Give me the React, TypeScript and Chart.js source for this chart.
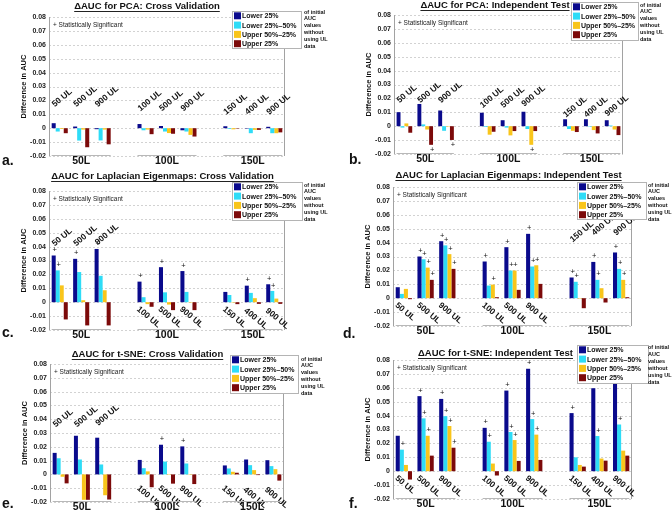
import React, { useEffect, useRef } from 'react';
import { Chart, registerables } from 'chart.js';
Chart.register(...registerables);

const FONT = '"Liberation Sans", Arial, Helvetica, sans-serif';

// ---------- shared data ----------
const categories = ['50 UL', '500 UL', '900 UL', '100 UL', '500 UL', '900 UL', '150 UL', '400 UL', '900 UL'];
const groupLabels = ['50L', '100L', '150L'];
const seriesNames = ['Lower 25%', 'Lower 25%\u201350%', 'Upper 50%\u201325%', 'Upper 25%'];
const seriesColors = ['#0A0A8C', '#2EDCF7', '#F9C51B', '#7C0A0A'];
const legendNote = ['of initial', 'AUC', 'values', 'without', 'using UL', 'data'];
const yTickValues = [-0.02, -0.01, 0, 0.01, 0.02, 0.03, 0.04, 0.05, 0.06, 0.07, 0.08];
const yAxisTitle = 'Difference in AUC';
const sigNote = '+ Statistically Significant';

// ---------- a. PCA: Cross Validation ----------
const pcaCvLower25 = [0.0036, 0.0012, -0.0007, 0.003, 0.0016, -0.0015, 0.0014, -0.0003, 0.001];
const pcaCvLower2550 = [-0.0024, -0.0089, -0.0088, -0.0015, -0.0024, -0.0024, -0.0005, -0.0036, -0.0036];
const pcaCvUpper5025 = [-0.0005, -0.001, -0.001, -0.001, -0.0035, -0.0048, -0.0008, -0.0012, -0.0036];
const pcaCvUpper25 = [-0.0036, -0.0137, -0.0116, -0.0043, -0.004, -0.006, -0.0003, -0.0012, -0.003];
const pcaCvSig = [
  [0, 0, 0, 0, 0, 0, 0, 0, 0],
  [0, 0, 0, 0, 0, 0, 0, 0, 0],
  [0, 0, 0, 0, 0, 0, 0, 0, 0],
  [0, 0, 0, 0, 0, 0, 0, 0, 0],
];

// ---------- b. PCA: Independent Test ----------
const pcaItLower25 = [0.0101, 0.016, 0.0113, 0.0097, 0.0043, 0.0104, 0.005, 0.005, 0.0043];
const pcaItLower2550 = [-0.001, 0.0013, -0.0033, -0.0005, -0.001, -0.002, -0.002, -0.0003, 0.0005];
const pcaItUpper5025 = [0.002, -0.0024, -0.0003, -0.0061, -0.0066, -0.0134, -0.0033, -0.0028, -0.0024];
const pcaItUpper25 = [-0.0047, -0.0134, -0.0099, -0.004, -0.0035, -0.0035, -0.0042, -0.0052, -0.0064];
const pcaItSig = [
  [0, 0, 0, 0, 0, 0, 0, 0, 0],
  [0, 0, 0, 0, 0, 0, 0, 0, 0],
  [0, 0, 0, 0, 0, 1, 0, 0, 0],
  [0, 1, 1, 0, 0, 0, 0, 0, 0],
];

// ---------- c. Laplacian Eigenmaps: Cross Validation ----------
const leCvLower25 = [0.0336, 0.0312, 0.0383, 0.0148, 0.0252, 0.0224, 0.0074, 0.0119, 0.0129];
const leCvLower2550 = [0.0229, 0.0217, 0.019, 0.0036, 0.0071, 0.0074, 0.0052, 0.0067, 0.0081];
const leCvUpper5025 = [0.0121, 0.0014, 0.0086, -0.0014, -0.0017, -0.0003, -0.0003, 0.0029, 0.0026];
const leCvUpper25 = [-0.0124, -0.0167, -0.0167, -0.0033, -0.0057, -0.0057, -0.0014, -0.0012, -0.0012];
const leCvSig = [
  [1, 1, 1, 1, 1, 1, 0, 1, 1],
  [1, 0, 0, 0, 0, 0, 0, 0, 1],
  [0, 0, 0, 0, 0, 0, 0, 0, 0],
  [0, 0, 0, 0, 0, 0, 0, 0, 0],
];

// ---------- d. Laplacian Eigenmaps: Independent Test ----------
const leItLower25 = [0.0079, 0.030, 0.041, 0.0264, 0.0367, 0.0463, 0.0149, 0.0261, 0.0329];
const leItLower2550 = [0.0031, 0.028, 0.038, 0.0091, 0.0199, 0.0228, 0.0118, 0.0132, 0.0211];
const leItUpper5025 = [0.0067, 0.022, 0.0317, 0.0098, 0.0199, 0.0237, -0.0003, 0.0072, 0.0132];
const leItUpper25 = [-0.0007, 0.0132, 0.0211, 0.0007, 0.006, 0.0103, -0.0072, -0.0031, 0.0007];
const leItSig = [
  [0, 1, 1, 1, 1, 1, 1, 1, 1],
  [0, 1, 1, 0, 1, 1, 1, 1, 1],
  [0, 1, 1, 1, 1, 1, 0, 0, 1],
  [0, 1, 1, 0, 0, 0, 0, 0, 0],
];

// ---------- e. t-SNE: Cross Validation ----------
const tsCvLower25 = [0.0156, 0.028, 0.0266, 0.0105, 0.0215, 0.0203, 0.0065, 0.0108, 0.0103];
const tsCvLower2550 = [0.0117, 0.0108, 0.0072, 0.0045, 0.0093, 0.0079, 0.0043, 0.0067, 0.006];
const tsCvUpper5025 = [-0.0017, -0.0184, -0.0151, 0.0022, 0.0003, 0.0003, 0.0019, 0.0031, 0.0038];
const tsCvUpper25 = [-0.0065, -0.0184, -0.0182, -0.0093, -0.0067, -0.007, 0.0012, -0.0005, -0.0045];
const tsCvSig = [
  [0, 0, 0, 0, 1, 1, 0, 0, 0],
  [0, 0, 0, 0, 0, 0, 0, 0, 0],
  [0, 0, 0, 0, 0, 0, 0, 0, 0],
  [0, 0, 0, 0, 0, 0, 0, 0, 0],
];

// ---------- f. t-SNE: Independent Test ----------
const tsItLower25 = [0.0255, 0.054, 0.052, 0.0312, 0.058, 0.0737, 0.0418, 0.0597, 0.0637];
const tsItLower2550 = [0.0155, 0.038, 0.0396, 0.0212, 0.0282, 0.0375, 0.01, 0.0253, 0.0336];
const tsItUpper5025 = [0.0045, 0.0255, 0.0325, 0.0055, 0.0224, 0.0263, 0.0045, 0.0091, 0.0148];
const tsItUpper25 = [-0.006, 0.0112, 0.0169, -0.0031, 0.0074, 0.0081, 0.0033, 0.0076, 0.0112];
const tsItSig = [
  [0, 1, 1, 1, 1, 1, 1, 1, 1],
  [1, 1, 1, 1, 1, 1, 0, 1, 1],
  [0, 1, 1, 0, 1, 1, 0, 0, 0],
  [0, 0, 1, 0, 0, 0, 0, 0, 0],
];

type PanelCfg = {
  key: string;
  x0: number; y0: number; w: number; h: number;
  area: [number, number, number, number];
  title: string; titleX: number; titleY: number;
  letter: string; letterX: number; letterY: number;
  legend: [number, number, number, number];
  noteX: number; noteY: number; noteStep: number;
  series: number[][];
  sig: number[][];
  labelSides: string[];
  labelY: number[];
};

const panels: PanelCfg[] = [
  {
    key: 'a', x0: 0, y0: 0, w: 336, h: 170, area: [49, 17, 285, 156],
    title: '\u0394AUC for PCA: Cross Validation', titleX: 147, titleY: 6,
    letter: 'a.', letterX: 2, letterY: 165,
    legend: [232, 11, 69, 37], noteX: 304, noteY: 12, noteStep: 6.8,
    series: [pcaCvLower25, pcaCvLower2550, pcaCvUpper5025, pcaCvUpper25], sig: pcaCvSig,
    labelSides: ['above', 'above', 'above'],
    labelY: [0.015, 0.015, 0.015, 0.012, 0.012, 0.012, 0.0095, 0.0095, 0.0095],
  },
  {
    key: 'b', x0: 336, y0: 0, w: 336, h: 170, area: [58, 15, 287, 154],
    title: '\u0394AUC for PCA: Independent Test', titleX: 159, titleY: 5,
    letter: 'b.', letterX: 13, letterY: 164,
    legend: [235, 2, 67, 38], noteX: 304, noteY: 5, noteStep: 6.8,
    series: [pcaItLower25, pcaItLower2550, pcaItUpper5025, pcaItUpper25], sig: pcaItSig,
    labelSides: ['above', 'above', 'above'],
    labelY: [0.0165, 0.0165, 0.0165, 0.013, 0.013, 0.014, 0.006, 0.006, 0.007],
  },
  {
    key: 'c', x0: 0, y0: 170, w: 336, h: 170, area: [49, 21, 285, 160],
    title: '\u0394AUC for Laplacian Eigenmaps: Cross Validation', titleX: 162.5, titleY: 6,
    letter: 'c.', letterX: 2, letterY: 167,
    legend: [232, 12, 70, 38], noteX: 304, noteY: 15, noteStep: 6.8,
    series: [leCvLower25, leCvLower2550, leCvUpper5025, leCvUpper25], sig: leCvSig,
    labelSides: ['above', 'below', 'below'],
    labelY: [0.040, 0.040, 0.041, -0.002, -0.002, -0.002, -0.002, -0.003, -0.003],
  },
  {
    key: 'd', x0: 336, y0: 170, w: 336, h: 170, area: [57, 17, 296, 156],
    title: '\u0394AUC for Laplacian Eigenmaps: Independent Test', titleX: 172.5, titleY: 5,
    letter: 'd.', letterX: 7, letterY: 168,
    legend: [241, 12, 69, 37], noteX: 312, noteY: 15, noteStep: 6.8,
    series: [leItLower25, leItLower2550, leItUpper5025, leItUpper25], sig: leItSig,
    labelSides: ['below', 'below', 'above'],
    labelY: [-0.002, -0.002, -0.002, -0.002, -0.002, -0.002, 0.040, 0.045, 0.045],
  },
  {
    key: 'e', x0: 0, y0: 340, w: 336, h: 178, area: [50, 24, 284, 162],
    title: '\u0394AUC for t-SNE: Cross Validation', titleX: 147.5, titleY: 14,
    letter: 'e.', letterX: 2, letterY: 168,
    legend: [230, 15, 68, 38], noteX: 301, noteY: 19, noteStep: 6.8,
    series: [tsCvLower25, tsCvLower2550, tsCvUpper5025, tsCvUpper25], sig: tsCvSig,
    labelSides: ['above', 'below', 'below'],
    labelY: [0.034, 0.034, 0.035, -0.007, -0.007, -0.007, -0.007, -0.008, -0.008],
  },
  {
    key: 'f', x0: 336, y0: 340, w: 336, h: 178, area: [57, 20, 296, 159],
    title: '\u0394AUC for t-SNE: Independent Test', titleX: 159.5, titleY: 13,
    letter: 'f.', letterX: 13, letterY: 168,
    legend: [241, 5, 71, 38], noteX: 312, noteY: 7.5, noteStep: 7,
    series: [tsItLower25, tsItLower2550, tsItUpper5025, tsItUpper25], sig: tsItSig,
    labelSides: ['below', 'below', 'below'],
    labelY: [-0.002, -0.002, -0.002, -0.002, -0.002, -0.002, -0.002, -0.002, -0.002],
  },
];

const toIdx = (k: number) => k + Math.floor(k / 3);
const chartLabels = ['50 UL', '500 UL', '900 UL', '', '100 UL', '500 UL', '900 UL', '', '150 UL', '400 UL', '900 UL'];
const spread = (vals: number[]) => {
  const out: (number | null)[] = new Array(11).fill(null);
  vals.forEach((v, k) => { out[toIdx(k)] = v; });
  return out;
};

function makePlugin(p: PanelCfg) {
  return {
    id: 'deco_' + p.key,
    beforeDatasetsDraw(chart: any) {
      const { ctx, chartArea: ca, scales } = chart;
      const y = scales.y;
      ctx.save();
      ctx.lineWidth = 1;
      ctx.strokeStyle = '#d2d2d2';
      ctx.setLineDash([2, 2]);
      yTickValues.forEach((v) => {
        const py = Math.round(y.getPixelForValue(v)) + 0.5;
        ctx.beginPath(); ctx.moveTo(ca.left, py); ctx.lineTo(ca.right, py); ctx.stroke();
      });
      ctx.setLineDash([]);
      ctx.strokeStyle = '#a2a2a2';
      const lx = Math.round(ca.left) + 0.5;
      const rx = Math.round(ca.right) - 0.5;
      ctx.beginPath(); ctx.moveTo(lx, ca.top); ctx.lineTo(lx, ca.bottom); ctx.stroke();
      ctx.beginPath(); ctx.moveTo(rx, ca.top); ctx.lineTo(rx, ca.bottom); ctx.stroke();
      ctx.restore();
    },
    afterDatasetsDraw(chart: any) {
      const { ctx, chartArea: ca, scales } = chart;
      const x = scales.x; const y = scales.y;
      ctx.save();
      // significance markers
      ctx.fillStyle = '#111';
      ctx.font = `7.5px ${FONT}`;
      ctx.textAlign = 'center';
      ctx.textBaseline = 'middle';
      p.sig.forEach((row, s) => {
        const meta = chart.getDatasetMeta(s);
        row.forEach((flag, k) => {
          if (!flag) return;
          const el = meta.data[toIdx(k)];
          const v = p.series[s][k];
          const py = v >= 0 ? el.y - 5.5 : el.y + 5;
          ctx.fillText('+', el.x + 1, py);
        });
      });
      // rotated category labels
      ctx.font = `bold 8.5px ${FONT}`;
      ctx.fillStyle = '#111';
      categories.forEach((c, k) => {
        const side = p.labelSides[Math.floor(k / 3)];
        const cx = x.getPixelForValue(toIdx(k));
        const py = y.getPixelForValue(p.labelY[k]);
        ctx.save();
        ctx.translate(cx - 5, py);
        ctx.rotate(side === 'above' ? -40 * Math.PI / 180 : 40 * Math.PI / 180);
        ctx.textAlign = 'left';
        ctx.textBaseline = side === 'above' ? 'alphabetic' : 'top';
        ctx.fillText(c, 0, 0);
        ctx.restore();
      });
      // group brackets and labels
      const m0 = chart.getDatasetMeta(0);
      const m3 = chart.getDatasetMeta(3);
      groupLabels.forEach((g, gi) => {
        const first = m0.data[toIdx(gi * 3)];
        const last = m3.data[toIdx(gi * 3 + 2)];
        const x1 = first.x - first.width / 2;
        const x2 = last.x + last.width / 2;
        const ly = Math.round(ca.bottom) - 0.5;
        ctx.strokeStyle = '#b8b8b8';
        ctx.lineWidth = 1;
        ctx.beginPath(); ctx.moveTo(x1, ly); ctx.lineTo(x2, ly); ctx.stroke();
        ctx.fillStyle = '#111';
        ctx.font = `bold 10.5px ${FONT}`;
        ctx.textAlign = 'center';
        ctx.textBaseline = 'middle';
        ctx.fillText(g, x.getPixelForValue(toIdx(gi * 3 + 1)), ca.bottom + 5.5);
      });
      ctx.restore();
    },
    afterDraw(chart: any) {
      const { ctx, chartArea: ca } = chart;
      ctx.save();
      // statistically significant note
      ctx.fillStyle = '#222';
      ctx.font = `6.5px ${FONT}`;
      ctx.textAlign = 'left';
      ctx.textBaseline = 'middle';
      ctx.fillText(sigNote, ca.left + 4, ca.top + 8.5);
      // legend box
      const [bx, by, bw, bh] = p.legend;
      ctx.fillStyle = '#fff';
      ctx.fillRect(bx, by, bw, bh);
      ctx.strokeStyle = '#b4b4b4';
      ctx.lineWidth = 1;
      ctx.strokeRect(bx + 0.5, by + 0.5, bw, bh);
      ctx.font = `bold 7px ${FONT}`;
      seriesNames.forEach((n, i) => {
        const cy = by + 4.8 + i * 9.3;
        ctx.fillStyle = seriesColors[i];
        ctx.fillRect(bx + 2, cy - 3.5, 7, 7);
        ctx.fillStyle = '#111';
        ctx.fillText(n, bx + 10, cy + 0.5);
      });
      ctx.font = `bold 5.5px ${FONT}`;
      legendNote.forEach((t, j) => {
        ctx.fillText(t, p.noteX, p.noteY + j * p.noteStep);
      });
      // title
      ctx.font = `bold 9.5px ${FONT}`;
      ctx.textAlign = 'center';
      ctx.fillStyle = '#111';
      ctx.fillText(p.title, p.titleX, p.titleY);
      const tw = ctx.measureText(p.title).width;
      ctx.strokeStyle = '#222';
      ctx.beginPath();
      ctx.moveTo(p.titleX - tw / 2, p.titleY + 5.5);
      ctx.lineTo(p.titleX + tw / 2, p.titleY + 5.5);
      ctx.stroke();
      // y axis title
      ctx.save();
      ctx.translate(ca.left - 25, (ca.top + ca.bottom) / 2);
      ctx.rotate(-Math.PI / 2);
      ctx.font = `bold 7.5px ${FONT}`;
      ctx.textAlign = 'center';
      ctx.textBaseline = 'middle';
      ctx.fillText(yAxisTitle, 0, 0);
      ctx.restore();
      // panel letter
      ctx.font = `bold 14px ${FONT}`;
      ctx.textAlign = 'left';
      ctx.textBaseline = 'alphabetic';
      ctx.fillText(p.letter, p.letterX, p.letterY);
      ctx.restore();
    },
  };
}

function Panel({ p }: { p: PanelCfg }) {
  const ref = useRef<HTMLCanvasElement | null>(null);
  useEffect(() => {
    if (!ref.current) return;
    const [left, top, right, bottom] = p.area;
    const chart = new Chart(ref.current, {
      type: 'bar',
      data: {
        labels: chartLabels,
        datasets: p.series.map((vals, i) => ({
          label: seriesNames[i],
          data: spread(vals),
          backgroundColor: seriesColors[i],
          borderWidth: 0,
          barPercentage: 1,
          categoryPercentage: 0.75,
        })),
      },
      options: {
        responsive: false,
        animation: false,
        devicePixelRatio: 1,
        events: [],
        layout: { padding: { left: 0, top, right: p.w - right, bottom: p.h - bottom } },
        plugins: { legend: { display: false }, tooltip: { enabled: false }, title: { display: false } },
        scales: {
          x: { type: 'category', display: false, offset: true },
          y: {
            min: -0.02,
            max: 0.08,
            afterFit: (s: any) => { s.width = left; },
            afterBuildTicks: (s: any) => { s.ticks = yTickValues.map((v) => ({ value: v })); },
            ticks: {
              padding: 3,
              color: '#222',
              font: { family: FONT, size: 7, weight: 'bold' },
              callback: (v: any) => {
                const r = Math.round(Number(v) * 100) / 100;
                return r === 0 ? '0' : r.toFixed(2);
              },
            },
            grid: { display: false, drawTicks: false, tickLength: 0 },
            border: { display: false },
          },
        },
      },
      plugins: [makePlugin(p)],
    } as any);
    return () => chart.destroy();
  }, [p]);
  return (
    <canvas
      ref={ref}
      width={p.w}
      height={p.h}
      style={{ position: 'absolute', left: p.x0, top: p.y0, width: p.w, height: p.h }}
    />
  );
}

export default function App() {
  return (
    <div style={{ position: 'absolute', left: 0, top: 0, width: 672, height: 518, background: '#fff', overflow: 'hidden' }}>
      {panels.map((p) => <Panel key={p.key} p={p} />)}
    </div>
  );
}
